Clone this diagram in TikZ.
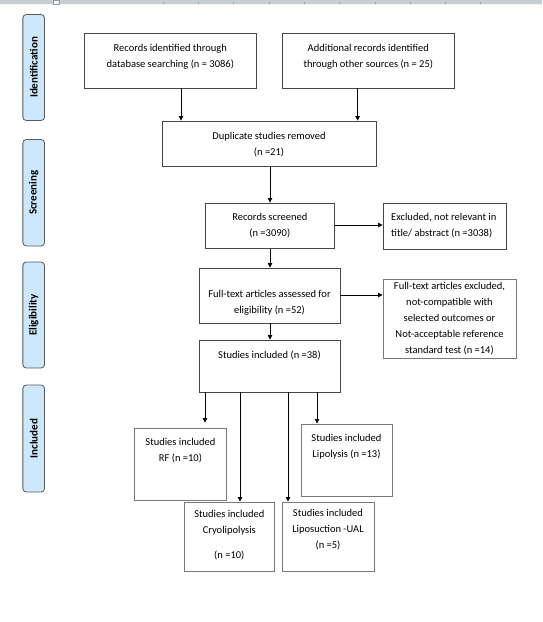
\documentclass[tikz,border=0pt]{standalone}
\usepackage{fontspec}
\setmainfont{Carlito}
\usetikzlibrary{arrows.meta}
\definecolor{phasefill}{RGB}{205,232,252}
\definecolor{phaseedge}{RGB}{90,90,90}
\definecolor{boxedge}{RGB}{70,70,70}
\definecolor{boxedgelight}{RGB}{120,120,120}
\definecolor{rulerband}{RGB}{200,205,212}
\tikzset{
  phase/.style={draw=phaseedge, fill=phasefill, rounded corners=3.5pt, line width=0.8pt,
    minimum width=21.7pt, inner sep=0pt},
  phasetxt/.style={rotate=90, font=\fontsize{11}{13}\selectfont\bfseries, inner sep=0pt},
  box/.style={draw=boxedge, line width=0.9pt, inner sep=0pt, fill=white},
  lbox/.style={draw=boxedgelight, line width=1pt, inner sep=0pt, fill=white},
  txt/.style={align=center, inner sep=0pt, font=\fontsize{10.5}{16}\selectfont},
  arr/.style={line width=0.8pt, -{Triangle[length=4.5pt,width=4.5pt]}},
}
\begin{document}
\begin{tikzpicture}[x=1pt,y=-1pt]
\useasboundingbox (0,0) rectangle (542,622);
% ruler
\fill[rulerband] (0,0) rectangle (542,5);
\fill[white!80!rulerband] (0,3.5) rectangle (542,5);
\foreach \k in {0,...,9} { \draw[gray!80, line width=0.6pt] ({163+35.3*\k},1.5) -- ({163+35.3*\k},4); }
\draw[gray!80, fill=white!90!gray, line width=0.5pt] (53,0) rectangle (59,4.5);

% phase labels
\node[phase, minimum height=106pt] (P1) at (33.7,67.5) {};
\node[phasetxt] (P1t) at (P1.center) {Identification};
\node[phase, minimum height=106.5pt] (P2) at (33.7,192.75) {};
\node[phasetxt] (P2t) at (P2.center) {Screening};
\node[phase, minimum height=106pt] (P3) at (33.7,315) {};
\node[phasetxt] (P3t) at (P3.center) {Eligibility};
\node[phase, minimum height=107pt] (P4) at (33.7,438.5) {};
\node[phasetxt] (P4t) at (P4.center) {Included};

% boxes
\node[box, minimum width=171.5pt, minimum height=54.6pt] (A) at (170.3,60.7) {};
\node[txt] (At) at (170.3,56.4) {Records identified through\\database searching (n = 3086)};
\node[box, minimum width=172.5pt, minimum height=54.6pt] (B) at (368.3,60.7) {};
\node[txt] (Bt) at (368.3,56.4) {Additional records identified\\through other sources (n = 25)};
\node[box, minimum width=214pt, minimum height=45pt] (C) at (269,143.5) {};
\node[txt] (Ct) at (269,144.7) {Duplicate studies removed\\(n =21)};
\node[box, minimum width=128.5pt, minimum height=45.6pt] (D) at (269.8,225.8) {};
\node[txt] (Dt) at (269.8,226) {Records screened\\(n =3090)};
\node[box, minimum width=123pt, minimum height=46pt] (E) at (444.5,226) {};
\node[txt, align=left, anchor=west] (Et) at (391,226) {Excluded, not relevant in\\title/ abstract (n =3038)};
\node[box, minimum width=141pt, minimum height=55pt] (F) at (269.5,295.5) {};
\node[txt] (Ft) at (269.5,303) {Full-text articles assessed for\\eligibility (n =52)};
\node[lbox, minimum width=133pt, minimum height=79pt] (G) at (449.5,318.5) {};
\node[txt] (Gt) at (449.5,318.5) {Full-text articles excluded,\\not-compatible with\\selected outcomes or\\Not-acceptable reference\\standard test (n =14)};
\node[box, minimum width=141pt, minimum height=52pt] (H) at (269.5,366) {};
\node[txt] (Ht) at (269.5,355) {Studies included (n =38)};
\node[lbox, minimum width=92pt, minimum height=72.7pt] (I) at (180.5,464.4) {};
\node[txt] (It) at (180.5,450.3) {Studies included\\RF (n =10)};
\node[lbox, minimum width=91pt, minimum height=72pt] (J) at (346.5,460) {};
\node[txt] (Jt) at (346.5,447) {Studies included\\Lipolysis (n =13)};
\node[lbox, minimum width=89.5pt, minimum height=69pt] (K) at (229.3,536.5) {};
\node[txt] (Kt) at (229.3,534.8) {Studies included\\Cryolipolysis\\[9pt](n =10)};
\node[lbox, minimum width=92pt, minimum height=69pt] (L) at (328,536.5) {};
\node[txt] (Lt) at (328,530) {Studies included\\Liposuction -UAL\\(n =5)};

% connectors
\draw[arr] (A.south -| 181,0) -- (C.north -| 181,0);
\draw[arr] (B.south -| 357.6,0) -- (C.north -| 357.6,0);
\draw[arr] (C.south -| 270,0) -- (D.north -| 270,0);
\draw[arr] (D.east |- 0,225) -- (E.west |- 0,225);
\draw[arr] (D.south -| 270,0) -- (F.north -| 270,0);
\draw[arr] (F.east |- 0,295) -- (G.west |- 0,295);
\draw[arr] (F.south -| 270,0) -- (H.north -| 270,0);
\draw[arr, shorten >=5pt] (H.south -| 205,0) -- (I.north -| 205,0);
\draw[arr] (H.south -| 240,0) -- (K.north -| 240,0);
\draw[arr] (H.south -| 288,0) -- (L.north -| 288,0);
\draw[arr] (H.south -| 317,0) -- (J.north -| 317,0);
\end{tikzpicture}
\end{document}
